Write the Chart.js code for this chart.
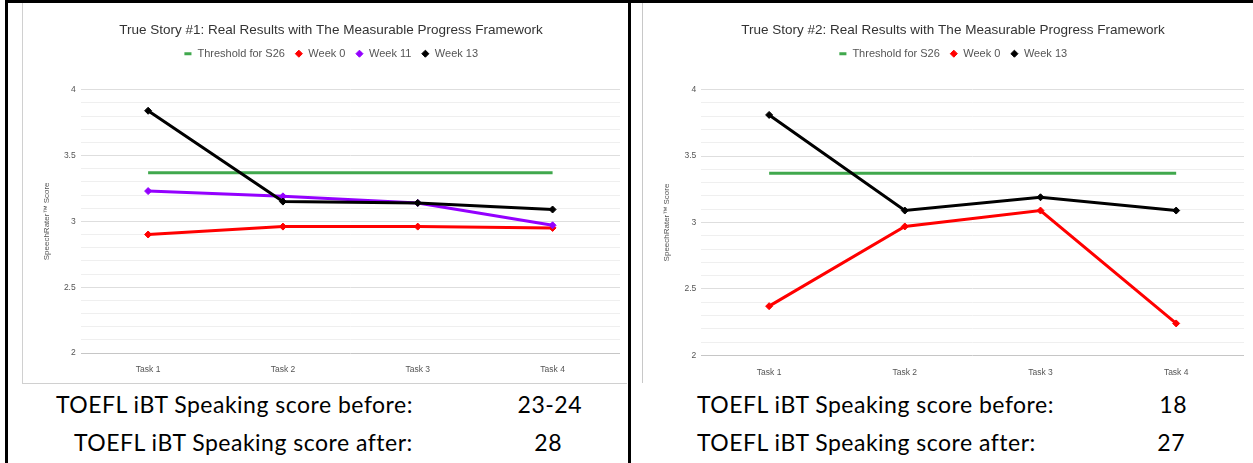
<!DOCTYPE html>
<html>
<head>
<meta charset="utf-8">
<script src="https://cdn.jsdelivr.net/npm/chart.js@4.4.1/dist/chart.umd.min.js"></script>
<style>
html,body{margin:0;padding:0;background:#fff;}
body{width:1253px;height:463px;overflow:hidden;position:relative;font-family:"Liberation Sans",Arial,sans-serif;}
.abs{position:absolute;}
#c1{left:22px;top:3px;width:604px;height:380px;border-left:1px solid #d0d0d0;border-bottom:1px solid #d0d0d0;}
#c2{left:642px;top:3px;width:610px;height:380px;border-left:1px solid #c8c8c8;}
.cw{position:absolute;top:0;left:0;height:380px;}
.line{background:#000;z-index:5;}
#topline{left:5px;top:0;width:1248px;height:3px;}
#lb{left:5px;top:0;width:3px;height:463px;}
#rb{left:628px;top:0;width:3px;height:463px;}
.txt{position:absolute;font-family:Lato,"Open Sans",sans-serif;font-size:23px;line-height:26px;letter-spacing:0.5px;color:#000;white-space:nowrap;}
</style>
</head>
<body>
<div id="topline" class="abs line"></div>
<div id="lb" class="abs line"></div>
<div id="rb" class="abs line"></div>
<div id="c1" class="abs"><div class="cw" style="width:604px"><canvas id="ch1"></canvas></div></div>
<div id="c2" class="abs"><div class="cw" style="width:610px"><canvas id="ch2"></canvas></div></div>

<div class="txt" id="t1a" style="left:56px;top:391px;">TOEFL iBT Speaking score before:</div>
<div class="txt" id="t1b" style="right:671px;top:391px;">23-24</div>
<div class="txt" id="t1c" style="left:74px;top:429px;">TOEFL iBT Speaking score after:</div>
<div class="txt" id="t1d" style="right:691px;top:429px;">28</div>
<div class="txt" id="t2a" style="left:697px;top:391px;">TOEFL iBT Speaking score before:</div>
<div class="txt" id="t2b" style="right:66px;top:391px;">18</div>
<div class="txt" id="t2c" style="left:697px;top:429px;">TOEFL iBT Speaking score after:</div>
<div class="txt" id="t2d" style="right:68px;top:429px;">27</div>

<script>
// ---- data ----
const tasks = ["Task 1", "Task 2", "Task 3", "Task 4"];
const yTickLabels = ["2", "2.5", "3", "3.5", "4"];
const title1 = "True Story #1: Real Results with The Measurable Progress Framework";
const title2 = "True Story #2: Real Results with The Measurable Progress Framework";
const yTitle = "SpeechRater\u2122 Score";

const s1Threshold = [3.37, 3.37, 3.37, 3.37];
const s1Week0 = [2.90, 2.96, 2.96, 2.95];
const s1Week11 = [3.23, 3.19, 3.14, 2.97];
const s1Week13 = [3.84, 3.15, 3.14, 3.09];

const s2Threshold = [3.37, 3.37, 3.37, 3.37];
const s2Week0 = [2.37, 2.97, 3.09, 2.24];
const s2Week13 = [3.81, 3.09, 3.19, 3.09];

// ---- styling ----
const GREEN = '#40a84d', RED = '#ff0000', PURPLE = '#9400ff', BLACK = '#000000';

function thresholdDs(data) {
  return {label: 'Threshold for S26', data, borderColor: GREEN, backgroundColor: GREEN,
    borderWidth: 3, pointRadius: 0, pointHoverRadius: 0, pointStyle: 'line',
    pointBorderColor: GREEN, pointBorderWidth: 3, order: 3};
}
function seriesDs(label, data, color, order) {
  return {label, data, borderColor: color, backgroundColor: color, borderWidth: 3,
    pointRadius: 3.5, pointStyle: 'rectRot', pointBackgroundColor: color,
    pointBorderColor: color, pointBorderWidth: 1, tension: 0, order};
}

const legendGap = {
  id: 'legendGap',
  beforeInit(chart) {
    const lg = chart.legend;
    if (!lg) return;
    const orig = lg.fit;
    lg.fit = function () {
      orig.call(this);
      const o = chart.options.plugins.legendGap || {};
      this.height += (o.extra || 0);
    };
  }
};

function makeChart(id, title, datasets, cfg) {
  const F = "'Liberation Sans', Arial, sans-serif";
  return new Chart(document.getElementById(id), {
    type: 'line',
    data: {labels: tasks, datasets},
    plugins: [legendGap],
    options: {
      responsive: true, maintainAspectRatio: false, animation: false,
      layout: {padding: {left: 19, right: cfg.right, top: 0, bottom: 0}},
      plugins: {
        legendGap: {extra: cfg.legendExtra},
        title: {display: true, text: title, color: '#333', font: {family: F, size: 13.5, weight: 'normal'},
          padding: {top: 19, bottom: 0}},
        legend: {display: true, labels: {usePointStyle: true, boxWidth: 8, boxHeight: 5, padding: 10,
          color: '#555', font: {family: F, size: 11},
          sort: (a, b) => a.datasetIndex - b.datasetIndex}},
        tooltip: {enabled: false}
      },
      scales: {
        x: {offset: true, grid: {display: false}, border: {display: false},
          ticks: {color: '#555', font: {family: F, size: 8.5}, padding: 4, maxRotation: 0},
          afterFit: (s) => { s.height = cfg.xH; }},
        y: {min: 2, max: 4,
          ticks: {stepSize: 0.1, autoSkip: false, color: '#555', font: {family: F, size: 8.5}, padding: 5,
            callback: (v) => { const s = String(Math.round(v * 10) / 10); return yTickLabels.includes(s) ? s : ''; }},
          grid: {drawTicks: false, lineWidth: 1,
            color: (c) => { const v = Math.round(c.tick.value * 10) / 10;
              if (v === 2) return '#c6c6c6';
              return yTickLabels.includes(String(v)) ? '#dedede' : '#efefef'; }},
          border: {display: false},
          title: {display: true, text: yTitle, color: '#555', font: {family: F, size: 8}, padding: 0},
          afterFit: (s) => { s.width = cfg.yW; }}
      }
    }
  });
}

makeChart('ch1', title1, [
  thresholdDs(s1Threshold),
  seriesDs('Week 0', s1Week0, RED, 2),
  seriesDs('Week 11', s1Week11, PURPLE, 1),
  seriesDs('Week 13', s1Week13, BLACK, 0)
], {right: 7, yW: 38.7, xH: 30, legendExtra: 20.5});

makeChart('ch2', title2, [
  thresholdDs(s2Threshold),
  seriesDs('Week 0', s2Week0, RED, 2),
  seriesDs('Week 13', s2Week13, BLACK, 0)
], {right: 9, yW: 39.3, xH: 27.7, legendExtra: 20.5});
</script>
</body>
</html>
